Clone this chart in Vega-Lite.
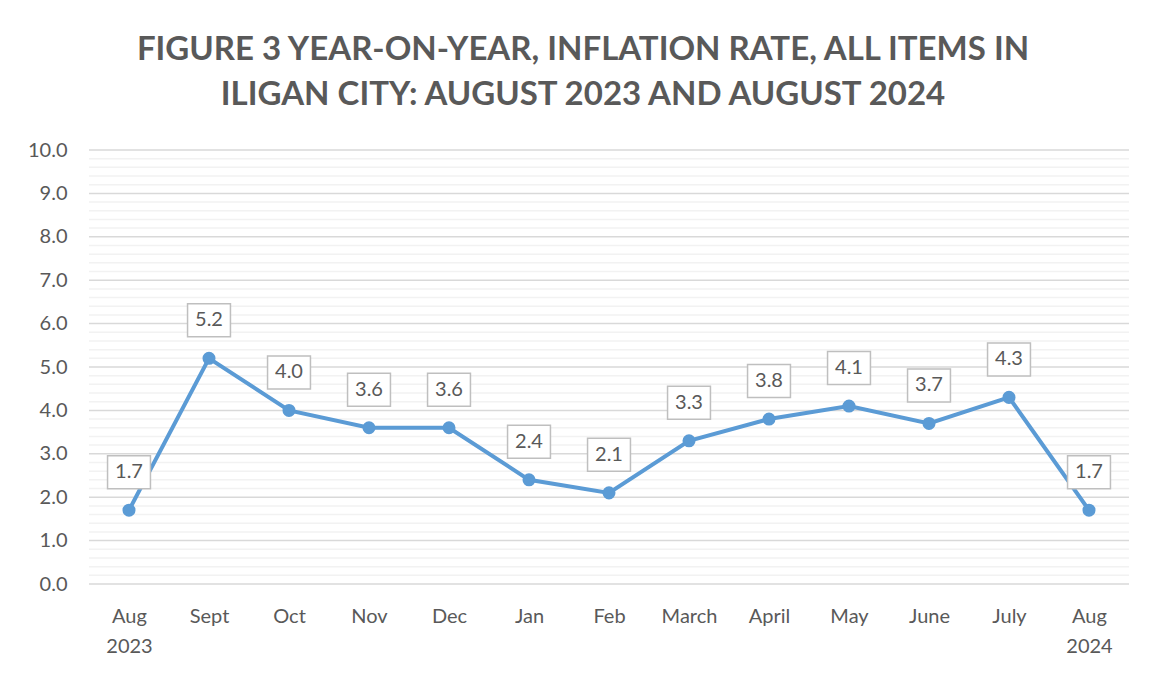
{
  "$schema": "https://vega.github.io/schema/vega-lite/v6.json",
  "width": 1040,
  "height": 434,
  "autosize": "none",
  "padding": {"left": 89, "top": 150, "right": 26, "bottom": 91},
  "background": "white",
  "title": {
    "text": ["FIGURE 3 YEAR-ON-YEAR, INFLATION RATE, ALL ITEMS IN", "ILIGAN CITY: AUGUST 2023 AND AUGUST 2024"],
    "font": "Lato",
    "fontSize": 33,
    "fontWeight": "bold",
    "color": "#595959",
    "anchor": "middle",
    "dx": -26,
    "offset": 28,
    "lineHeight": 45
  },
  "data": {
    "values": [
      {"month": "Aug|2023", "rate": 1.7},
      {"month": "Sept", "rate": 5.2},
      {"month": "Oct", "rate": 4.0},
      {"month": "Nov", "rate": 3.6},
      {"month": "Dec", "rate": 3.6},
      {"month": "Jan", "rate": 2.4},
      {"month": "Feb", "rate": 2.1},
      {"month": "March", "rate": 3.3},
      {"month": "April", "rate": 3.8},
      {"month": "May", "rate": 4.1},
      {"month": "June", "rate": 3.7},
      {"month": "July", "rate": 4.3},
      {"month": "Aug|2024", "rate": 1.7}
    ]
  },
  "encoding": {
    "x": {
      "field": "month",
      "type": "ordinal",
      "sort": null,
      "scale": {"paddingInner": 0, "paddingOuter": 0.5},
      "axis": {
        "title": null,
        "labelAngle": 0,
        "labelExpr": "split(datum.value, '|')",
        "labelFont": "Lato",
        "labelFontSize": 20,
        "labelColor": "#595959",
        "labelPadding": 22,
        "labelLineHeight": 30,
        "ticks": false,
        "domain": false,
        "grid": false
      }
    },
    "y": {
      "field": "rate",
      "type": "quantitative",
      "scale": {"domain": [0, 10]},
      "axis": {
        "title": null,
        "values": [0,1,2,3,4,5,6,7,8,9,10],
        "format": ".1f",
        "labelFont": "Lato",
        "labelFontSize": 20,
        "labelColor": "#595959",
        "labelPadding": 22,
        "ticks": false,
        "domain": false,
        "grid": false
      }
    }
  },
  "layer": [
    {
      "data": {"values": [
        {"g": 0.2},{"g": 0.4},{"g": 0.6},{"g": 0.8},
        {"g": 1.2},{"g": 1.4},{"g": 1.6},{"g": 1.8},
        {"g": 2.2},{"g": 2.4},{"g": 2.6},{"g": 2.8},
        {"g": 3.2},{"g": 3.4},{"g": 3.6},{"g": 3.8},
        {"g": 4.2},{"g": 4.4},{"g": 4.6},{"g": 4.8},
        {"g": 5.2},{"g": 5.4},{"g": 5.6},{"g": 5.8},
        {"g": 6.2},{"g": 6.4},{"g": 6.6},{"g": 6.8},
        {"g": 7.2},{"g": 7.4},{"g": 7.6},{"g": 7.8},
        {"g": 8.2},{"g": 8.4},{"g": 8.6},{"g": 8.8},
        {"g": 9.2},{"g": 9.4},{"g": 9.6},{"g": 9.8}
      ]},
      "mark": {"type": "rule", "color": "#f2f2f2", "strokeWidth": 1.5},
      "encoding": {"y": {"field": "g", "type": "quantitative"}, "x": null}
    },
    {
      "data": {"values": [
        {"g": 0},{"g": 1},{"g": 2},{"g": 3},{"g": 4},{"g": 5},
        {"g": 6},{"g": 7},{"g": 8},{"g": 9},{"g": 10}
      ]},
      "mark": {"type": "rule", "color": "#d9d9d9", "strokeWidth": 1.5},
      "encoding": {"y": {"field": "g", "type": "quantitative"}, "x": null}
    },
    {
      "mark": {"type": "line", "color": "#5b9bd5", "strokeWidth": 4}
    },
    {
      "mark": {"type": "point", "filled": true, "opacity": 1, "color": "#5b9bd5", "size": 170}
    },
    {
      "mark": {
        "type": "point",
        "shape": "M-1.3,-1 L1.3,-1 L1.3,1 L-1.3,1 Z",
        "size": 1089,
        "filled": false,
        "fill": "white",
        "fillOpacity": 1,
        "stroke": "#bfbfbf",
        "strokeWidth": 1.5,
        "opacity": 1,
        "yOffset": -38
      }
    },
    {
      "mark": {
        "type": "text",
        "font": "Lato",
        "fontSize": 20,
        "color": "#595959",
        "yOffset": -38,
        "baseline": "middle"
      },
      "encoding": {"text": {"field": "rate", "type": "quantitative", "format": ".1f"}}
    }
  ],
  "config": {"view": {"stroke": null}}
}
